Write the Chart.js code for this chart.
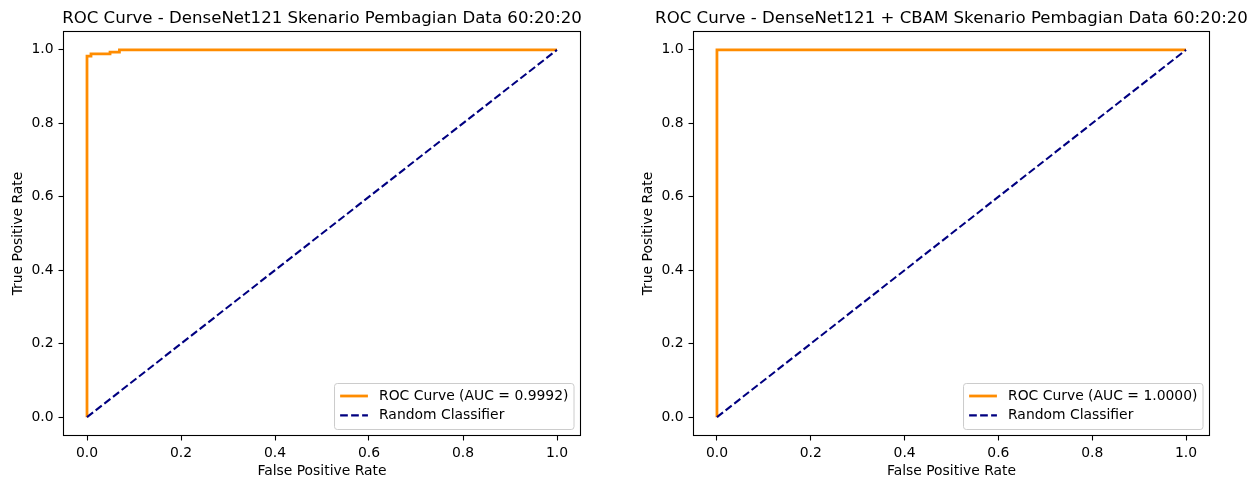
<!DOCTYPE html>
<html>
<head>
<meta charset="utf-8">
<script src="https://cdn.jsdelivr.net/npm/chart.js@4"></script>
<style>
  html, body { margin: 0; padding: 0; background: #fff; }
  .row { display: flex; width: 1260px; height: 479px; }
  canvas { display: block; }
</style>
</head>
<body>
<div class="row">
  <canvas id="rocDense" width="630" height="479"></canvas>
  <canvas id="rocCbam" width="630" height="479"></canvas>
</div>
<script>
// ROC points
const fprDense = [0, 0, 0.0085, 0.0085, 0.049, 0.049, 0.069, 0.069, 1];
const tprDense = [0, 0.983, 0.983, 0.989, 0.989, 0.994, 0.994, 1, 1];
const fprCbam = [0, 0, 1];
const tprCbam = [0, 1, 1];
const diagX = [0, 1];
const diagY = [0, 1];
const aucDense = '0.9992';
const aucCbam = '1.0000';
const tickValues = [0, 0.2, 0.4, 0.6, 0.8, 1.0];
const titleDense = 'ROC Curve - DenseNet121 Skenario Pembagian Data 60:20:20';
const titleCbam = 'ROC Curve - DenseNet121 + CBAM Skenario Pembagian Data 60:20:20';

const FONT = 'DejaVu Sans';
const FS = 13.9;

function pts(xs, ys) {
  return xs.map((x, i) => ({ x: x, y: ys[i] }));
}

// title over the axes, box around the axes, legend in lower right
const framePlugin = {
  id: 'frameLegend',
  afterDraw(chart) {
    const ctx = chart.ctx;
    const a = chart.chartArea;
    ctx.save();
    ctx.strokeStyle = '#000';
    ctx.lineWidth = 1.1;
    ctx.strokeRect(a.left, a.top, a.right - a.left, a.bottom - a.top);

    ctx.fillStyle = '#000';
    ctx.font = '16.6px "' + FONT + '"';
    ctx.textAlign = 'center';
    ctx.textBaseline = 'alphabetic';
    ctx.fillText(chart.options.plotTitle, (a.left + a.right) / 2, 23);

    ctx.font = FS + 'px "' + FONT + '"';
    const items = chart.data.datasets;
    let tw = 0;
    items.forEach(d => { tw = Math.max(tw, ctx.measureText(d.label).width); });
    const pad = 5.6, handle = 27.8, gap = 11.1;
    const w = pad * 2 + handle + gap + tw;
    const h = 46;
    const x0 = a.right - 6.5 - w;
    const y0 = a.bottom - 6 - h;
    ctx.beginPath();
    ctx.roundRect(x0, y0, w, h, 2.8);
    ctx.fillStyle = 'rgba(255,255,255,0.8)';
    ctx.fill();
    ctx.strokeStyle = '#cccccc';
    ctx.lineWidth = 1;
    ctx.stroke();

    items.forEach((d, i) => {
      const cy = y0 + 12.5 + i * 19.4;
      ctx.beginPath();
      ctx.setLineDash(d.borderDash || []);
      ctx.strokeStyle = d.borderColor;
      ctx.lineWidth = d.borderWidth;
      ctx.moveTo(x0 + pad, cy);
      ctx.lineTo(x0 + pad + handle, cy);
      ctx.stroke();
      ctx.setLineDash([]);
      ctx.fillStyle = '#000';
      ctx.textBaseline = 'middle';
      ctx.textAlign = 'left';
      ctx.fillText(d.label, x0 + pad + handle + gap, cy);
    });
    ctx.restore();
  }
};

function makeRoc(id, title, fpr, tpr, auc, rightPad) {
  const axisCommon = {
    type: 'linear',
    min: -0.05,
    max: 1.05,
    afterBuildTicks: s => { s.ticks = tickValues.map(v => ({ value: v })); },
    grid: {
      drawOnChartArea: false,
      drawTicks: true,
      tickLength: 5,
      tickColor: '#000',
      tickWidth: 1.1
    },
    border: { display: false },
    ticks: {
      color: '#000',
      padding: 5,
      font: { family: FONT, size: FS },
      callback: v => Number(v).toFixed(1)
    }
  };
  return new Chart(document.getElementById(id), {
    type: 'line',
    data: {
      datasets: [
        {
          label: 'ROC Curve (AUC = ' + auc + ')',
          data: pts(fpr, tpr),
          borderColor: '#ff8c00',
          borderWidth: 2.78,
          pointRadius: 0,
          fill: false,
          tension: 0,
          order: 1
        },
        {
          label: 'Random Classifier',
          data: pts(diagX, diagY),
          borderColor: '#000080',
          borderWidth: 2.08,
          borderDash: [7.7, 3.3],
          pointRadius: 0,
          fill: false,
          tension: 0,
          order: 0
        }
      ]
    },
    options: {
      responsive: false,
      animation: false,
      plotTitle: title,
      layout: { padding: { top: 31.5, right: rightPad, bottom: 0, left: 0 } },
      plugins: {
        legend: { display: false },
        tooltip: { enabled: false },
        title: { display: false }
      },
      scales: {
        x: Object.assign({}, axisCommon, {
          position: 'bottom',
          afterFit: s => { s.height = 43.5; },
          title: {
            display: true,
            text: 'False Positive Rate',
            color: '#000',
            font: { family: FONT, size: FS },
            padding: { top: 0, bottom: -1 }
          }
        }),
        y: Object.assign({}, axisCommon, {
          position: 'left',
          afterFit: s => { s.width = 63.5; },
          title: {
            display: true,
            text: 'True Positive Rate',
            color: '#000',
            font: { family: FONT, size: FS },
            padding: { top: 10, bottom: 0 }
          }
        })
      }
    },
    plugins: [framePlugin]
  });
}

makeRoc('rocDense', titleDense, fprDense, tprDense, aucDense, 49.5);
makeRoc('rocCbam', titleCbam, fprCbam, tprCbam, aucCbam, 50.5);
</script>
</body>
</html>
